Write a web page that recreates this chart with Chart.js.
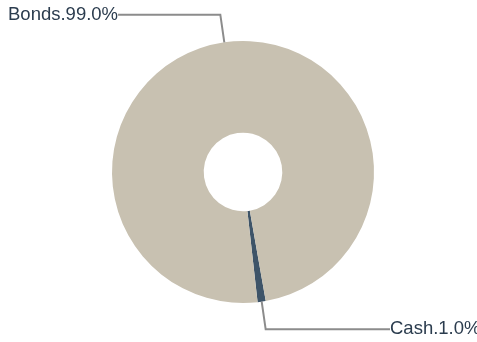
<!DOCTYPE html>
<html><head><meta charset="utf-8">
<script src="https://cdn.jsdelivr.net/npm/chart.js@4/dist/chart.umd.min.js"></script>
<style>html,body{margin:0;padding:0;background:#fff;overflow:hidden}#wrap{width:477px;height:342px;position:relative}</style>
</head><body><div id="wrap"><canvas id="c"></canvas></div>
<script>
const categories = ['Cash', 'Bonds'];
const values = [1.0, 99.0];
const colors = ['#3e5468', '#c8c1b1'];

const leaderPlugin = {
  id: 'leader',
  afterDatasetsDraw(chart) {
    const ctx = chart.ctx;
    const meta = chart.getDatasetMeta(0);
    const W = chart.width;
    ctx.save();
    ctx.font = '18.5px "Liberation Sans", Arial, sans-serif';
    ctx.textBaseline = 'middle';
    meta.data.forEach((arc, i) => {
      const p = arc.getProps(['x','y','startAngle','endAngle','outerRadius'], true);
      const mid = (p.startAngle + p.endAngle) / 2;
      const r1 = p.outerRadius, r2 = p.outerRadius + 28;
      const x1 = p.x + Math.cos(mid) * r1, y1 = p.y + Math.sin(mid) * r1;
      const x2 = p.x + Math.cos(mid) * r2, y2 = p.y + Math.sin(mid) * r2;
      const label = categories[i] + '.' + values[i].toFixed(1) + '%';
      const tw = ctx.measureText(label).width;
      const right = Math.cos(mid) >= 0;
      const tx = right ? W - 87 : 8;
      const x3 = right ? tx : tx + tw;
      ctx.strokeStyle = '#8c8c8c';
      ctx.lineWidth = 2;
      ctx.beginPath();
      ctx.moveTo(x1, y1); ctx.lineTo(x2, y2); ctx.lineTo(x3, y2);
      ctx.stroke();
      ctx.fillStyle = '#2b3c4e';
      ctx.textAlign = 'left';
      ctx.fillText(label, tx, y2);
    });
    ctx.restore();
  }
};

new Chart(document.getElementById('c'), {
  type: 'doughnut',
  data: { labels: categories, datasets: [{ data: values, backgroundColor: colors, borderWidth: 0 }] },
  options: {
    responsive: true, maintainAspectRatio: false, animation: false,
    rotation: 170, cutout: '30%',
    layout: { padding: { top: 41, bottom: 39, left: 9, right: 0 } },
    plugins: { legend: { display: false }, tooltip: { enabled: false } }
  },
  plugins: [leaderPlugin]
});
</script></body></html>
